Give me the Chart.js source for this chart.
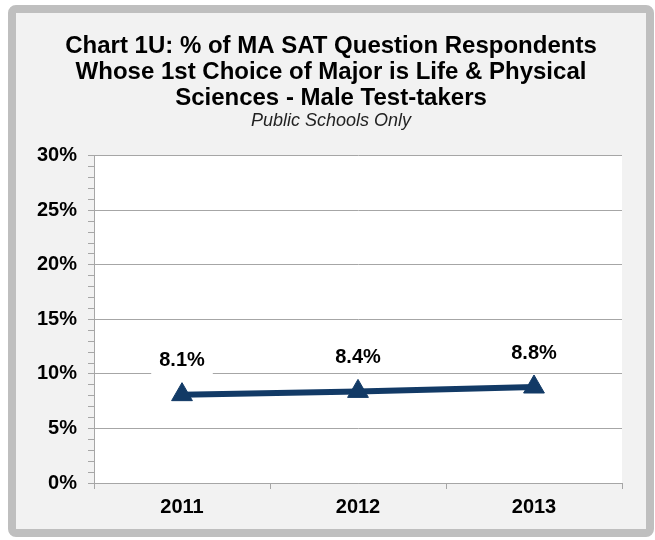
<!DOCTYPE html>
<html>
<head>
<meta charset="utf-8">
<script src="https://cdn.jsdelivr.net/npm/chart.js@4"></script>
<style>
    body { margin: 0; background: #ffffff; }
    .frame {
        position: absolute;
        left: 8px;
        top: 5px;
        width: 630px;
        height: 516px;
        border: 8px solid #bfbfbf;
        border-radius: 8px;
        background: #f2f2f2;
    }
    canvas { display: block; }
</style>
</head>
<body>
<div class="frame">
    <canvas id="chart1u" width="630" height="516"></canvas>
</div>
<script>
// Data
const years = ['2011', '2012', '2013'];
const malePct = [8.1, 8.4, 8.8];
const titleLines = [
    'Chart 1U: % of MA SAT Question Respondents',
    'Whose 1st Choice of Major is Life & Physical',
    'Sciences - Male Test-takers'
];
const subtitleText = 'Public Schools Only';

const LINE_COLOR = '#123a66';
const GRID_COLOR = '#a6a6a6';
const FONT = "'Liberation Sans', Arial, sans-serif";

// White plot background
const plotBackground = {
    id: 'plotBackground',
    beforeDraw(chart) {
        const { ctx, chartArea: a } = chart;
        ctx.save();
        ctx.fillStyle = '#ffffff';
        ctx.fillRect(a.left, a.top, a.right - a.left, a.bottom - a.top);
        ctx.restore();
    }
};

// Value labels above points, with white box behind
const valueLabels = {
    id: 'valueLabels',
    afterDatasetsDraw(chart) {
        const { ctx } = chart;
        const meta = chart.getDatasetMeta(0);
        ctx.save();
        ctx.font = 'bold 20px ' + FONT;
        ctx.textAlign = 'center';
        ctx.textBaseline = 'middle';
        meta.data.forEach((pt, i) => {
            const text = malePct[i].toFixed(1) + '%';
            const w = ctx.measureText(text).width + 16;
            const y = pt.y - 34;
            ctx.fillStyle = '#ffffff';
            ctx.fillRect(pt.x - w / 2, y - 15, w, 30);
            ctx.fillStyle = '#000000';
            ctx.fillText(text, pt.x, y);
        });
        ctx.restore();
    }
};

new Chart(document.getElementById('chart1u'), {
    type: 'line',
    data: {
        labels: years,
        datasets: [{
            data: malePct,
            borderColor: LINE_COLOR,
            backgroundColor: LINE_COLOR,
            borderWidth: 6,
            pointStyle: 'triangle',
            pointRadius: 12,
            pointHoverRadius: 12,
            pointBorderWidth: 1,
            tension: 0
        }]
    },
    options: {
        responsive: false,
        animation: false,
        layout: { padding: { left: 0, right: 0, top: 0, bottom: 4 } },
        plugins: {
            legend: { display: false },
            tooltip: { enabled: false },
            title: {
                display: true,
                text: titleLines,
                color: '#000000',
                font: { family: FONT, size: 24, weight: 'bold', lineHeight: 1.083 },
                padding: { top: 20, bottom: 0 }
            },
            subtitle: {
                display: true,
                text: subtitleText,
                color: '#222222',
                font: { family: FONT, size: 18, style: 'italic', lineHeight: 1.1 },
                padding: { top: 0, bottom: 25 }
            }
        },
        scales: {
            x: {
                offset: true,
                grid: {
                    offset: true,
                    drawOnChartArea: false,
                    drawTicks: true,
                    tickLength: 6,
                    color: GRID_COLOR
                },
                border: { color: GRID_COLOR, width: 1 },
                ticks: {
                    color: '#000000',
                    padding: 6,
                    font: { family: FONT, size: 20, weight: 'bold' }
                }
            },
            y: {
                min: 0,
                max: 30,
                afterFit(scale) { scale.width = 78; },
                grid: {
                    color: ctx => (ctx.tick && ctx.tick.value % 5 === 0) ? GRID_COLOR : 'rgba(0,0,0,0)',
                    tickColor: GRID_COLOR,
                    tickLength: 6,
                    lineWidth: 1
                },
                border: { color: GRID_COLOR, width: 1 },
                ticks: {
                    stepSize: 1,
                    autoSkip: false,
                    padding: 11,
                    color: '#000000',
                    font: { family: FONT, size: 20, weight: 'bold' },
                    callback: v => (v % 5 === 0) ? v + '%' : ''
                }
            },
            // empty right-side spacer so the plot ends short of the frame
            spacer: {
                type: 'linear',
                position: 'right',
                min: 0,
                max: 30,
                afterFit(scale) { scale.width = 24; },
                grid: { display: false },
                border: { display: false },
                ticks: { display: false }
            }
        }
    },
    plugins: [plotBackground, valueLabels]
});
</script>
</body>
</html>
